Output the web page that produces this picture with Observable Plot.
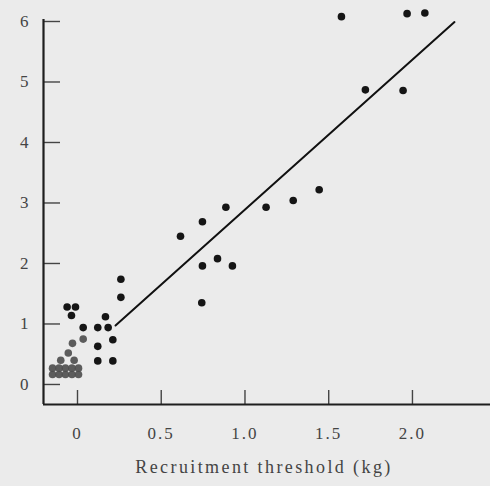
<!DOCTYPE html>
<html>
<head>
<meta charset="utf-8">
<script src="https://cdn.jsdelivr.net/npm/d3@7"></script>
<script src="https://cdn.jsdelivr.net/npm/@observablehq/plot@0.6"></script>
<style>
  html, body { margin: 0; padding: 0; background: #ebebeb; }
  #chart svg { display: block; background: #ebebeb; }
  #chart svg g[aria-label="x-axis tick label"] text { letter-spacing: 2px; }
  #chart svg g.xtitle text { letter-spacing: 2.4px; }
</style>
</head>
<body>
<div id="chart"></div>
<script>
// Recruitment threshold (kg) vs. response — dark points
const threshold = [1.576, 1.968, 2.074, 1.719, 1.944, 1.443, 1.288, 1.126, 0.886, 0.746,
                   0.615, 0.836, 0.746, 0.925, 0.742, 0.259, 0.259, 0.167, 0.121, 0.183,
                   0.034, 0.211, 0.121, 0.121, 0.211, -0.062, -0.012, -0.036];
const response  = [6.08, 6.13, 6.14, 4.87, 4.86, 3.22, 3.04, 2.93, 2.93, 2.69,
                   2.45, 2.08, 1.96, 1.96, 1.35, 1.74, 1.44, 1.12, 0.94, 0.94,
                   0.94, 0.74, 0.63, 0.39, 0.39, 1.28, 1.28, 1.14];
// overlapping, lighter points near the origin
const clusterThreshold = [0.034, -0.03, -0.055, -0.10, -0.02,
                          -0.149, -0.110, -0.072, -0.033, 0.006,
                          -0.149, -0.110, -0.072, -0.033, 0.006];
const clusterResponse  = [0.75, 0.68, 0.52, 0.40, 0.40,
                          0.27, 0.27, 0.27, 0.27, 0.27,
                          0.165, 0.165, 0.165, 0.165, 0.165];
// fitted line endpoints
const fitThreshold = [0.227, 2.251];
const fitResponse  = [0.975, 5.99];

const xTicks = [0, 0.5, 1.0, 1.5, 2.0];
const xTickLabels = ["0", "0.5", "1.0", "1.5", "2.0"];
const yTicks = [0, 1, 2, 3, 4, 5, 6];
const yTickLabels = ["0", "1", "2", "3", "4", "5", "6"];
const xTitle = "Recruitment threshold (kg)";

const xDomain = [-0.203, 2.466];
const yDomain = [-0.331, 6.033];

const points = threshold.map((x, i) => ({x, y: response[i]}));
const cluster = clusterThreshold.map((x, i) => ({x, y: clusterResponse[i]}));
const fit = fitThreshold.map((x, i) => ({x, y: fitResponse[i]}));

const W = 490, H = 486, mL = 43, mR = 0, mT = 19, mB = 82;
const frameW = W - mL - mR, frameH = H - mT - mB;
const font = "'Liberation Serif', 'DejaVu Serif', serif";

const chart = Plot.plot({
  width: W,
  height: H,
  marginLeft: mL,
  marginRight: mR,
  marginTop: mT,
  marginBottom: mB,
  style: {background: "#ebebeb", fontFamily: font, fontSize: "17px", color: "#3a3a3a"},
  x: {domain: xDomain},
  y: {domain: yDomain},
  marks: [
    Plot.axisY(yTicks, {tickSize: 0, tickPadding: 15, fontSize: 17, fill: "#444", label: null,
      tickFormat: (d) => yTickLabels[yTicks.indexOf(d)]}),
    Plot.axisX(xTicks, {tickSize: 0, tickPadding: 22, fontSize: 17, fill: "#444", label: null,
      tickFormat: (d) => xTickLabels[xTicks.indexOf(d)]}),
    Plot.tickY(yTicks, {y: (d) => d, insetRight: frameW - 17, stroke: "#444", strokeWidth: 1.4}),
    Plot.tickX(xTicks, {x: (d) => d, insetTop: frameH - 14, stroke: "#444", strokeWidth: 1.4}),
    Plot.ruleX([xDomain[0]], {stroke: "#1e1e1e", strokeWidth: 2.2}),
    Plot.ruleY([yDomain[0]], {stroke: "#1e1e1e", strokeWidth: 2.2}),
    Plot.line(fit, {x: "x", y: "y", stroke: "#111", strokeWidth: 2}),
    Plot.dot(cluster, {x: "x", y: "y", r: 3.8, fill: "#4d4d4d", stroke: "none", fillOpacity: 0.9}),
    Plot.dot(points, {x: "x", y: "y", r: 3.8, fill: "#151515", stroke: "none"}),
    Plot.text([xTitle], {frameAnchor: "bottom", dy: 68, dx: -3, fontSize: 18, fill: "#444",
      fontFamily: font, className: "xtitle"})
  ]
});
document.getElementById("chart").append(chart);
</script>
</body>
</html>
